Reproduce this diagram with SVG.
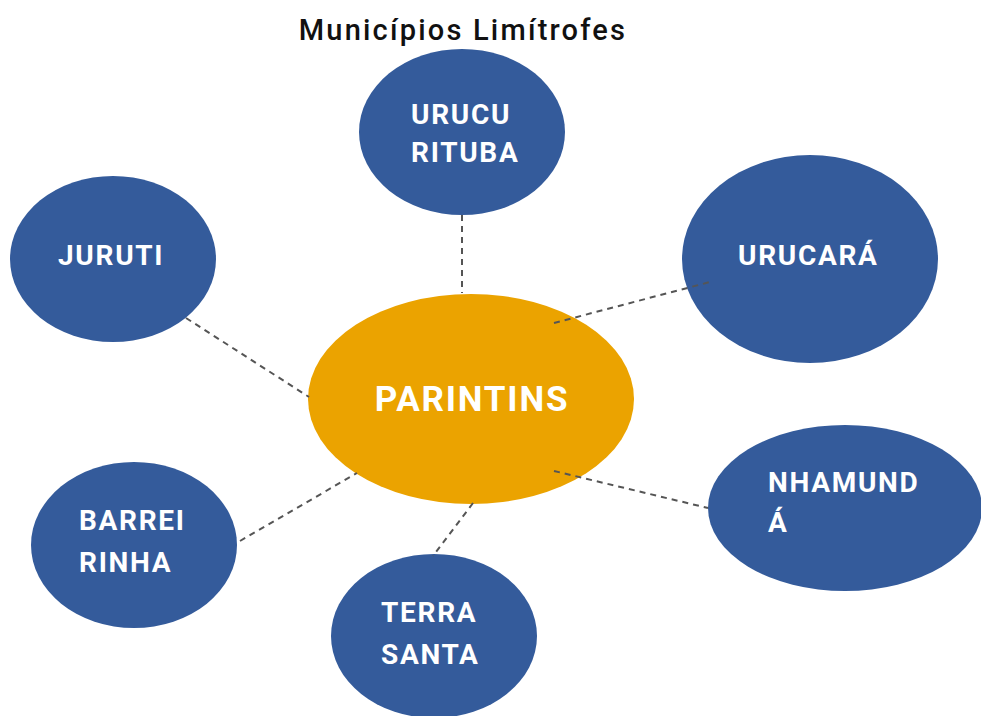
<svg xmlns="http://www.w3.org/2000/svg" width="981" height="716" viewBox="0 0 981 716">
<style>
.node{fill:#345b9b}
.center{fill:#eba300}
.lbl{font-family:Roboto,"Liberation Sans",sans-serif;font-weight:700;font-size:28px;fill:#fff;letter-spacing:1.7px}
.big{font-size:35px;letter-spacing:1.8px}
.title{font-family:Roboto,"Liberation Sans",sans-serif;font-weight:500;font-size:29px;fill:#111;letter-spacing:2.2px}
.conn{stroke:#555;stroke-width:2;stroke-dasharray:6 5;fill:none}
</style>
<rect width="981" height="716" fill="#fff"/>
<text class="title" x="463" y="40" text-anchor="middle">Municípios Limítrofes</text>
<g id="parintins"><ellipse class="center" cx="471" cy="399" rx="163" ry="105"/><text class="lbl big" x="472" y="411" text-anchor="middle">PARINTINS</text></g>
<g id="urucurituba"><ellipse class="node" cx="462" cy="132" rx="103" ry="83"/><text class="lbl" x="411" y="124">URUCU</text><text class="lbl" x="411" y="162">RITUBA</text></g>
<g id="juruti"><ellipse class="node" cx="113" cy="259" rx="103" ry="83"/><text class="lbl" x="58" y="265">JURUTI</text></g>
<g id="urucara"><ellipse class="node" cx="810" cy="259" rx="128" ry="104"/><text class="lbl" x="738" y="265">URUCARÁ</text></g>
<g id="nhamunda"><ellipse class="node" cx="845" cy="508" rx="137" ry="83"/><text class="lbl" x="768" y="492">NHAMUND</text><text class="lbl" x="768" y="532">Á</text></g>
<g id="barreirinha"><ellipse class="node" cx="134" cy="545" rx="103" ry="83"/><text class="lbl" x="79" y="530">BARREI</text><text class="lbl" x="79" y="572">RINHA</text></g>
<g id="terrasanta"><ellipse class="node" cx="434" cy="636" rx="103" ry="82"/><text class="lbl" x="381" y="622">TERRA</text><text class="lbl" x="381" y="664">SANTA</text></g>
<g id="connectors">
<line class="conn" x1="462" y1="215" x2="462" y2="293"/>
<line class="conn" x1="554" y1="323" x2="710" y2="282"/>
<line class="conn" x1="186" y1="318" x2="309" y2="397"/>
<line class="conn" x1="554" y1="471" x2="708" y2="508"/>
<line class="conn" x1="240" y1="541" x2="357" y2="473"/>
<line class="conn" x1="473" y1="503" x2="433" y2="556"/>
</g>
</svg>
